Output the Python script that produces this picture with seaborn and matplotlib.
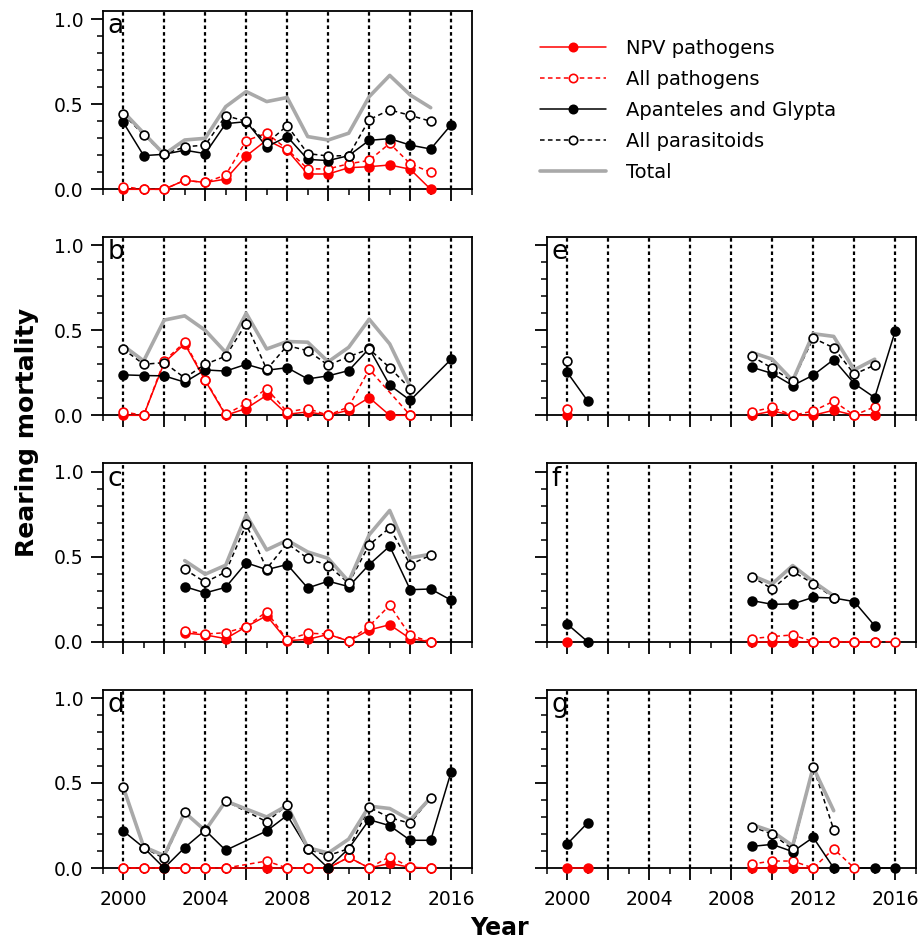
import numpy as np
import pandas as pd
import matplotlib
matplotlib.use("Agg")
import matplotlib.pyplot as plt
import seaborn as sns
from matplotlib.lines import Line2D
from matplotlib.ticker import MultipleLocator, FuncFormatter

n = np.nan
YEARS = list(range(2000, 2017))

# Rearing mortality by year (2000-2016) for each site panel
a_npv     = [0, 0, 0, 0.053, 0.04, 0.06, 0.196, 0.29, 0.23, 0.09, 0.09, 0.127, 0.133, 0.143, 0.118, 0, n]
a_allpath = [0.016, 0, 0, 0.053, 0.04, 0.084, 0.286, 0.33, 0.235, 0.12, 0.12, 0.15, 0.17, 0.27, 0.15, 0.10, n]
a_apan    = [0.394, 0.198, 0.206, 0.23, 0.21, 0.386, 0.398, 0.25, 0.31, 0.176, 0.169, 0.198, 0.288, 0.298, 0.26, 0.237, 0.38]
a_allpar  = [0.443, 0.32, 0.206, 0.25, 0.26, 0.433, 0.40, 0.27, 0.375, 0.21, 0.196, 0.198, 0.41, 0.467, 0.435, 0.40, n]
a_total   = [0.457, 0.33, 0.206, 0.29, 0.30, 0.486, 0.575, 0.516, 0.54, 0.31, 0.29, 0.33, 0.545, 0.67, 0.555, 0.48, n]

b_npv     = [0, 0, 0.31, 0.42, 0.205, 0, 0.04, 0.118, 0.006, 0.02, 0, 0.03, 0.104, 0, 0, n, n]
b_allpath = [0.02, 0, 0.32, 0.43, 0.21, 0.005, 0.07, 0.157, 0.02, 0.04, 0, 0.05, 0.27, n, 0, n, n]
b_apan    = [0.238, 0.234, 0.232, 0.195, 0.267, 0.26, 0.30, 0.265, 0.28, 0.214, 0.232, 0.263, 0.393, 0.177, 0.088, n, 0.33]
b_allpar  = [0.39, 0.30, 0.31, 0.22, 0.30, 0.348, 0.54, 0.27, 0.41, 0.38, 0.295, 0.345, 0.39, 0.28, 0.157, n, n]
b_total   = [0.41, 0.32, 0.56, 0.585, 0.50, 0.37, 0.60, 0.39, 0.434, 0.43, 0.315, 0.40, 0.565, 0.42, 0.17, n, n]

c_npv     = [n, n, n, 0.051, 0.04, 0.018, 0.088, 0.153, 0.006, 0.014, 0.043, 0.004, 0.069, 0.10, 0.018, 0, n]
c_allpath = [n, n, n, 0.065, 0.045, 0.053, 0.088, 0.177, 0.01, 0.05, 0.045, 0.004, 0.092, 0.214, 0.037, 0, n]
c_apan    = [n, n, n, 0.324, 0.287, 0.32, 0.464, 0.424, 0.454, 0.316, 0.356, 0.324, 0.454, 0.562, 0.306, 0.31, 0.244]
c_allpar  = [n, n, n, 0.426, 0.35, 0.41, 0.69, 0.43, 0.578, 0.49, 0.448, 0.344, 0.57, 0.67, 0.454, 0.509, n]
c_total   = [n, n, n, 0.477, 0.397, 0.45, 0.747, 0.54, 0.597, 0.528, 0.49, 0.354, 0.629, 0.772, 0.493, 0.515, n]

d_npv     = [0, 0, 0, 0, 0, 0, n, 0, 0, 0, 0, 0.063, 0, 0.027, 0.004, 0, n]
d_allpath = [0, 0, 0, 0, 0, 0, n, 0.041, 0, 0, 0, 0.063, 0, 0.067, 0.004, 0, n]
d_apan    = [0.218, 0.12, 0, 0.12, 0.222, 0.104, n, 0.218, 0.31, 0.112, 0, 0.114, 0.284, 0.249, 0.163, 0.163, 0.567]
d_allpar  = [0.476, 0.12, 0.057, 0.327, 0.22, 0.394, n, 0.272, 0.37, 0.11, 0.073, 0.114, 0.357, 0.296, 0.263, 0.414, n]
d_total   = [0.476, 0.125, 0.073, 0.327, 0.22, 0.394, n, 0.30, 0.368, 0.12, 0.088, 0.17, 0.364, 0.35, 0.282, 0.414, n]

e_npv     = [0, n, n, n, n, n, n, n, n, 0, 0.025, 0, 0, 0.03, 0, 0, n]
e_allpath = [0.035, n, n, n, n, n, n, n, n, 0.02, 0.047, 0, 0.025, 0.083, 0, 0.05, n]
e_apan    = [0.253, 0.084, n, n, n, n, n, n, n, 0.283, 0.246, 0.175, 0.236, 0.328, 0.187, 0.104, 0.495]
e_allpar  = [0.322, n, n, n, n, n, n, n, n, 0.348, 0.277, 0.2, 0.454, 0.397, 0.242, 0.295, n]
e_total   = [n, n, n, n, n, n, n, n, n, 0.37, 0.33, 0.204, 0.48, 0.464, 0.267, 0.33, n]

f_npv     = [0, n, n, n, n, n, n, n, n, 0, 0, 0, 0, 0, 0, 0, n]
f_allpath = [n, n, n, n, n, n, n, n, n, 0.018, 0.03, 0.04, 0, 0, 0, 0, 0]
f_apan    = [0.104, 0, n, n, n, n, n, n, n, 0.242, 0.22, 0.222, 0.261, 0.257, 0.236, 0.094, n]
f_allpar  = [n, n, n, n, n, n, n, n, n, 0.383, 0.31, 0.413, 0.342, 0.26, n, n, n]
f_total   = [n, n, n, n, n, n, n, n, n, 0.39, 0.34, 0.448, 0.354, 0.27, n, n, n]

g_npv     = [0, 0, n, n, n, n, n, n, n, 0, 0, 0, 0, n, n, n, n]
g_allpath = [n, n, n, n, n, n, n, n, n, 0.023, 0.041, 0.041, 0, 0.113, 0, n, n]
g_apan    = [0.141, 0.266, n, n, n, n, n, n, n, 0.127, 0.139, 0.096, 0.18, 0, n, 0, 0]
g_allpar  = [n, n, n, n, n, n, n, n, n, 0.243, 0.2, 0.11, 0.597, 0.225, n, n, n]
g_total   = [n, n, n, n, n, n, n, n, n, 0.256, 0.215, 0.131, 0.593, 0.337, n, n, n]

PANELS = {
    "a": (a_npv, a_allpath, a_apan, a_allpar, a_total),
    "b": (b_npv, b_allpath, b_apan, b_allpar, b_total),
    "c": (c_npv, c_allpath, c_apan, c_allpar, c_total),
    "d": (d_npv, d_allpath, d_apan, d_allpar, d_total),
    "e": (e_npv, e_allpath, e_apan, e_allpar, e_total),
    "f": (f_npv, f_allpath, f_apan, f_allpar, f_total),
    "g": (g_npv, g_allpath, g_apan, g_allpar, g_total),
}
SERIES_NAMES = ["NPV pathogens", "All pathogens", "Apanteles and Glypta",
                "All parasitoids", "Total"]

RED = "#ff0000"
GREY = "#a9a9a9"
STYLES = [
    dict(color=RED, ls="-", face=RED, marker=True),
    dict(color=RED, ls=(0, (3, 2.2)), face="white", marker=True),
    dict(color="black", ls="-", face="black", marker=True),
    dict(color="black", ls=(0, (3, 2.2)), face="white", marker=True),
    dict(color=GREY, ls="-", face=None, marker=False),
]

sns.set_style("ticks")
plt.rcParams["font.family"] = ["DejaVu Sans"]
plt.rcParams.update({
    "axes.linewidth": 1.3,
    "axes.edgecolor": "black",
    "text.color": "black",
    "axes.labelcolor": "black",
    "xtick.color": "black",
    "ytick.color": "black",
})

W, H = 918, 942
fig = plt.figure(figsize=(W / 100, H / 100), dpi=100)

LEFT_X, RIGHT_X, AX_W, AX_H = 102.7, 546.7, 369.0, 178.5
ROW_BOTTOM = [189.3, 415.3, 641.7, 868.0]
POS = {
    "a": (LEFT_X, 0), "b": (LEFT_X, 1), "c": (LEFT_X, 2), "d": (LEFT_X, 3),
    "e": (RIGHT_X, 1), "f": (RIGHT_X, 2), "g": (RIGHT_X, 3),
}


def to_frame(values):
    """Valid points of one series, split into runs wherever a gap exceeds two years."""
    rows, seg, prev = [], 0, None
    for yr, v in zip(YEARS, values):
        if v is None or np.isnan(v):
            continue
        if prev is not None and yr - prev > 2:
            seg += 1
        rows.append((yr, v, seg))
        prev = yr
    return pd.DataFrame(rows, columns=["year", "value", "seg"])


for key, series in PANELS.items():
    x0, row = POS[key]
    bottom = ROW_BOTTOM[row]
    ax = fig.add_axes([x0 / W, 1 - bottom / H, AX_W / W, AX_H / H])

    # lines first, grey total above them, markers on top
    for i, (vals, st) in enumerate(zip(series, STYLES)):
        df = to_frame(vals)
        if df.empty:
            continue
        if st["marker"]:
            sns.lineplot(data=df, x="year", y="value", units="seg", estimator=None,
                         ax=ax, color=st["color"], linestyle=st["ls"], lw=1.1,
                         zorder=3 + (i >= 2) * 0.5, clip_on=False, sort=True)
        else:
            sns.lineplot(data=df, x="year", y="value", units="seg", estimator=None,
                         ax=ax, color=st["color"], linestyle="-", lw=2.6,
                         zorder=4.5, clip_on=False, sort=True)
    for i, (vals, st) in enumerate(zip(series, STYLES)):
        if not st["marker"]:
            continue
        df = to_frame(vals)
        if df.empty:
            continue
        sns.scatterplot(data=df, x="year", y="value", ax=ax, s=40,
                        color=st["face"], edgecolor=st["color"], linewidth=1.2,
                        zorder=5 + (i >= 2), clip_on=False, legend=False)

    ax.set_xlim(1999, 2017)
    ax.set_ylim(0, 1.05)
    ax.set_xlabel("")
    ax.set_ylabel("")
    ax.xaxis.set_major_locator(MultipleLocator(2))
    ax.xaxis.set_minor_locator(MultipleLocator(1))
    ax.yaxis.set_major_locator(MultipleLocator(0.5))
    ax.yaxis.set_minor_locator(MultipleLocator(0.1))
    ax.xaxis.set_major_formatter(FuncFormatter(lambda v, p: f"{int(round(v))}" if int(round(v)) % 4 == 0 else ""))
    ax.yaxis.set_major_formatter(FuncFormatter(lambda v, p: f"{v:.1f}"))
    ax.grid(axis="x", which="major", color="black", lw=1.6, ls=(0, (1.6, 1.4)), zorder=1)
    ax.tick_params(axis="both", which="major", direction="out", length=8.6, width=1.3,
                   labelsize=13.5, pad=5)
    ax.tick_params(axis="both", which="minor", direction="out", length=4.2, width=1.1)
    ax.tick_params(axis="x", which="major", pad=7)
    ax.tick_params(labelbottom=(row == 3), labelleft=(x0 == LEFT_X))
    for sp in ax.spines.values():
        sp.set_linewidth(1.3)
        sp.set_visible(True)
    ax.text(0.012, 0.985, key, transform=ax.transAxes, fontsize=19,
            va="top", ha="left", zorder=10)

fig.text(27 / W, 1 - 432 / H, "Rearing mortality", rotation=90, fontsize=18,
         fontweight="bold", ha="center", va="center")
fig.text(500 / W, 1 - 928 / H, "Year", fontsize=17, fontweight="bold",
         ha="center", va="center")

handles = []
for st, name in zip(STYLES, SERIES_NAMES):
    if st["marker"]:
        handles.append(Line2D([0], [0], color=st["color"], ls=st["ls"], lw=1.1,
                              marker="o", markersize=6, markerfacecolor=st["face"],
                              markeredgecolor=st["color"], markeredgewidth=1.2))
    else:
        handles.append(Line2D([0], [0], color=st["color"], lw=2.6))
fig.legend(handles, SERIES_NAMES, loc="upper left",
           bbox_to_anchor=(540 / W, 1 - 39 / H), frameon=False, fontsize=14,
           handlelength=3.4, handletextpad=1.0, labelspacing=0.62,
           borderpad=0, borderaxespad=0, numpoints=1)

fig.savefig("out.png", dpi=100)
